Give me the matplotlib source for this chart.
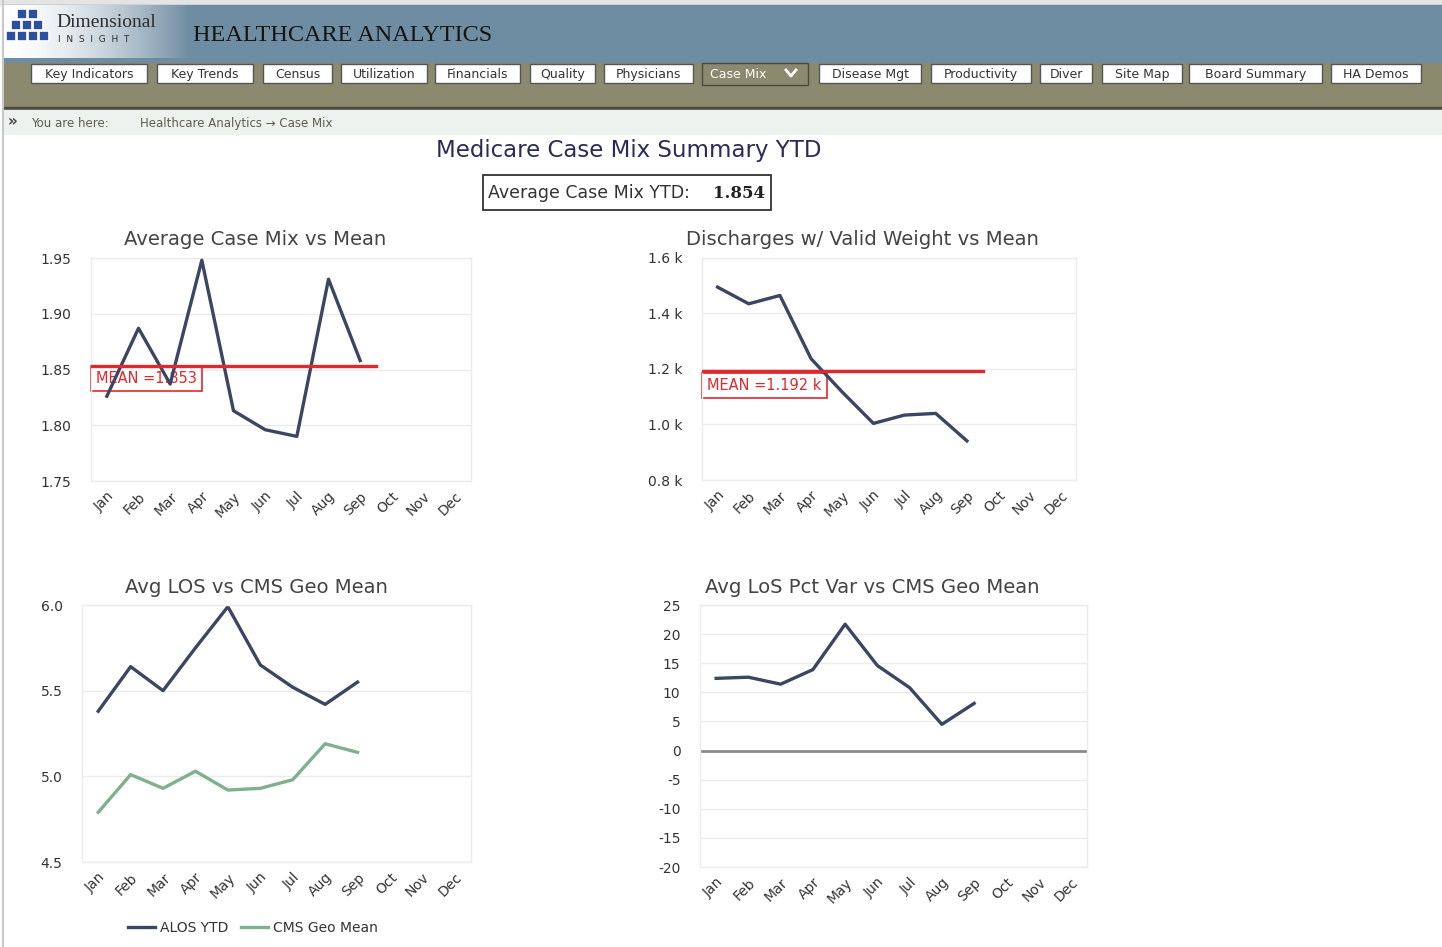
import numpy as np
import matplotlib
matplotlib.use("Agg")
import matplotlib.pyplot as plt
from matplotlib.patches import Rectangle
from matplotlib.ticker import FuncFormatter, MultipleLocator

W, H = 1442, 947

# --------------------------------------------------------------------------- #
# Data
# --------------------------------------------------------------------------- #
months = ["Jan", "Feb", "Mar", "Apr", "May", "Jun",
          "Jul", "Aug", "Sep", "Oct", "Nov", "Dec"]

case_mix = [1.826, 1.887, 1.837, 1.948, 1.813, 1.796, 1.790, 1.931, 1.858]
case_mix_mean = 1.853
avg_case_mix_ytd = 1.854

discharges = [1495, 1435, 1465, 1237, 1117, 1004, 1034, 1040, 941]
discharges_mean = 1192

alos_ytd = [5.38, 5.64, 5.50, 5.75, 5.99, 5.65, 5.52, 5.42, 5.55]
cms_geo_mean = [4.79, 5.01, 4.93, 5.03, 4.92, 4.93, 4.98, 5.19, 5.14]

los_pct_var = [12.4, 12.6, 11.4, 13.9, 21.7, 14.6, 10.8, 4.5, 8.1]

tabs = ["Key Indicators", "Key Trends", "Census", "Utilization", "Financials",
        "Quality", "Physicians", "Case Mix", "Disease Mgt", "Productivity",
        "Diver", "Site Map", "Board Summary", "HA Demos"]
tab_x = [(31, 147), (157, 253), (263, 332), (341, 427), (435, 520),
         (530, 595), (604, 693), (702, 808), (819, 921), (931, 1031),
         (1040, 1092), (1102, 1182), (1189, 1322), (1331, 1421)]
active_tab = "Case Mix"

NAVY = "#3c4562"
GREEN = "#7fb08f"
RED = "#e0282d"
GRID = "#ececec"
TXT = "#333333"

plt.rcParams["font.family"] = ["DejaVu Sans"]
plt.rcParams["axes.unicode_minus"] = False

fig = plt.figure(figsize=(W / 100, H / 100), dpi=100)
fig.patch.set_facecolor("white")

# --------------------------------------------------------------------------- #
# Page chrome: header, tabs, breadcrumb
# --------------------------------------------------------------------------- #
bg = fig.add_axes([0, 0, 1, 1], zorder=0)
bg.set_xlim(0, W)
bg.set_ylim(H, 0)
bg.axis("off")

bg.add_patch(Rectangle((0, 0), W, 5, color="#e4e4e4"))
bg.add_patch(Rectangle((3, 5), W, 58, color="#6f8da2"))
bg.add_patch(Rectangle((3, 63), W, 45, color="#8b8a6e"))
bg.add_patch(Rectangle((3, 107), W, 2, color="#4b4a3e"))
bg.add_patch(Rectangle((3, 110), W, 24, color="#eef2ef"))
bg.plot([3, 3], [0, H], color="#c8c8c8", lw=1.5)

# logo gradient
grad = np.linspace(0, 1, 200)[None, :] ** 1.6
cmap = matplotlib.colors.LinearSegmentedColormap.from_list("g", ["#ffffff", "#6f8da2"])
bg.imshow(grad, extent=(3, 190, 58, 5), cmap=cmap, aspect="auto", zorder=1)

# cube-ish logo blocks
for (cx, cy) in [(22, 14), (33, 14), (16, 25), (27, 25), (38, 25), (11, 36), (22, 36), (33, 36), (44, 36)]:
    bg.add_patch(Rectangle((cx - 5, cy - 5), 10, 10, facecolor="#2d4f9e",
                           edgecolor="white", lw=1.2, zorder=2))

bg.text(56, 22, "Dimensional", family="Liberation Serif", fontsize=14,
        color="#2e2e2e", va="center", zorder=3)
bg.text(58, 39, "I  N  S  I  G  H  T", fontsize=6.5, color="#2e2e2e",
        va="center", zorder=3)
bg.text(193, 35, "HEALTHCARE ANALYTICS", family="Liberation Serif", fontsize=17.5,
        color="#151515", va="center", zorder=3)

for name, (x0, x1) in zip(tabs, tab_x):
    if name == active_tab:
        bg.add_patch(Rectangle((x0, 63), x1 - x0, 22, facecolor="#8b8a6e",
                               edgecolor="#4b4a3e", lw=1))
        bg.text(x0 + 8, 74, name, fontsize=9, color="white", va="center")
        bg.plot([x1 - 22, x1 - 17, x1 - 12], [70, 76, 70], color="white", lw=2)
    else:
        bg.add_patch(Rectangle((x0, 64), x1 - x0, 19, facecolor="white",
                               edgecolor="#555555", lw=1))
        bg.text((x0 + x1) / 2, 74, name, fontsize=9, color="#333333",
                ha="center", va="center")

bg.text(8, 122, "»", fontsize=11, color="#444444", va="center", weight="bold")
bg.text(31, 123, "You are here:", fontsize=8.5, color="#5e5e48", va="center")
bg.text(140, 123, "Healthcare Analytics \u2192 Case Mix", fontsize=8.5,
        color="#5e5e48", va="center")

# page title and YTD box
bg.text(629, 150, "Medicare Case Mix Summary YTD", fontsize=16.5,
        color="#2b2b55", ha="center", va="center")
bg.add_patch(Rectangle((483, 175), 288, 35, facecolor="white",
                       edgecolor="#333333", lw=1.3))
bg.text(488, 193, "Average Case Mix YTD:", fontsize=12.5, color="#333333",
        va="center")
bg.text(765, 193, f"{avg_case_mix_ytd:.3f}", fontsize=12, color="#222222",
        va="center", ha="right", weight="bold", family="DejaVu Serif")

# chart titles
for title, cx, cy in [("Average Case Mix vs Mean", 255, 239),
                      ("Discharges w/ Valid Weight vs Mean", 862, 239),
                      ("Avg LOS vs CMS Geo Mean", 256, 587),
                      ("Avg LoS Pct Var vs CMS Geo Mean", 872, 587)]:
    bg.text(cx, cy, title, fontsize=14.1, color="#444444", ha="center",
            va="center")


# --------------------------------------------------------------------------- #
# Chart axes
# --------------------------------------------------------------------------- #
def px_axes(x0, y0, x1, y1):
    ax = fig.add_axes([x0 / W, 1 - y1 / H, (x1 - x0) / W, (y1 - y0) / H], zorder=2)
    ax.set_facecolor("none")
    for s in ax.spines.values():
        s.set_color(GRID)
        s.set_linewidth(1)
    ax.set_xlim(-0.5, 11.5)
    ax.set_xticks(range(12))
    ax.set_xticklabels(months, rotation=45, ha="right", va="top",
                       rotation_mode="anchor")
    ax.tick_params(length=0, labelsize=10, labelcolor=TXT)
    ax.tick_params(axis="y", pad=14)
    ax.tick_params(axis="x", pad=6)
    ax.grid(axis="y", color=GRID, lw=1)
    ax.set_axisbelow(True)
    return ax


mean_box = dict(boxstyle="square,pad=0.35", facecolor="white", edgecolor=RED, lw=1.2)
x = np.arange(len(case_mix))

# Average Case Mix vs Mean
ax1 = px_axes(91, 258, 471, 481)
ax1.set_ylim(1.75, 1.95)
ax1.yaxis.set_major_locator(MultipleLocator(0.05))
ax1.yaxis.set_major_formatter(FuncFormatter(lambda v, p: f"{v:.2f}"))
ax1.plot(x, case_mix, color=NAVY, lw=2.4, zorder=3)
ax1.plot([-0.5, 8.5], [case_mix_mean] * 2, color=RED, lw=2.4, zorder=4)
ax1.text(-0.33, case_mix_mean - 0.0045, f"MEAN ={case_mix_mean:.3f}", fontsize=10.5,
         color=RED, va="top", ha="left", zorder=2, bbox=mean_box)

# Discharges w/ Valid Weight vs Mean
ax2 = px_axes(702, 258, 1076, 480)
ax2.set_ylim(800, 1600)
ax2.yaxis.set_major_locator(MultipleLocator(200))
ax2.yaxis.set_major_formatter(FuncFormatter(lambda v, p: f"{v / 1000:.1f} k"))
ax2.plot(x, discharges, color=NAVY, lw=2.4, zorder=3)
ax2.plot([-0.5, 8.5], [discharges_mean] * 2, color=RED, lw=2.4, zorder=4)
ax2.text(-0.33, discharges_mean - 24, f"MEAN ={discharges_mean / 1000:.3f} k",
         fontsize=10.5, color=RED, va="top", ha="left", zorder=2, bbox=mean_box)

# Avg LOS vs CMS Geo Mean
ax3 = px_axes(82, 605, 471, 862)
ax3.set_ylim(4.5, 6.0)
ax3.yaxis.set_major_locator(MultipleLocator(0.5))
ax3.yaxis.set_major_formatter(FuncFormatter(lambda v, p: f"{v:.1f}"))
ax3.plot(x, alos_ytd, color=NAVY, lw=2.4, label="ALOS YTD")
ax3.plot(x, cms_geo_mean, color=GREEN, lw=2.4, label="CMS Geo Mean")
ax3.legend(loc="upper center", bbox_to_anchor=(0.44, -0.18), ncol=2,
           frameon=False, fontsize=10, handlelength=1.9, columnspacing=0.9,
           handletextpad=0.4, labelcolor=TXT)

# Avg LoS Pct Var vs CMS Geo Mean
ax4 = px_axes(700, 605, 1087, 867)
ax4.set_ylim(-20, 25)
ax4.yaxis.set_major_locator(MultipleLocator(5))
ax4.axhline(0, color="#8a8a8a", lw=2, zorder=2)
ax4.plot(x, los_pct_var, color=NAVY, lw=2.4, zorder=3)

fig.savefig("out.png", dpi=100)
